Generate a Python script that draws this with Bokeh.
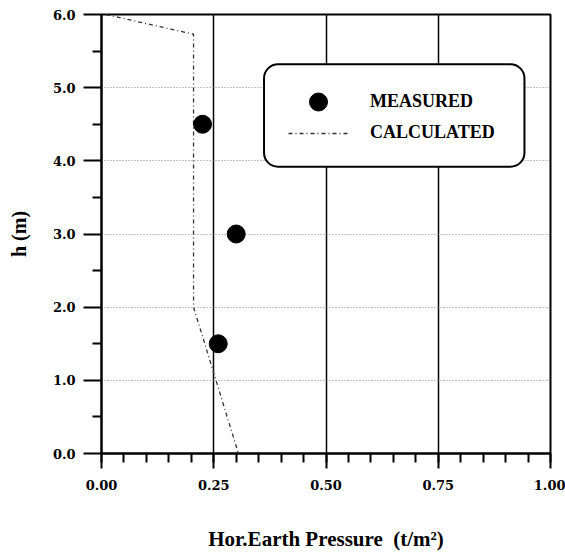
from bokeh.plotting import figure
from bokeh.models import (Range1d, FixedTicker, BoxAnnotation, Legend, LegendItem)
from bokeh.embed import file_html
from bokeh.resources import INLINE

# ---- data ----
measured_p = [0.225, 0.30, 0.26]
measured_h = [4.5, 3.0, 1.5]
calc_p = [0.01, 0.205, 0.205, 0.305]
calc_h = [6.0, 5.73, 2.0, 0.0]
x_ticks = [0.0, 0.25, 0.5, 0.75, 1.0]
x_tick_labels = ["0.00", "0.25", "0.50", "0.75", "1.00"]
y_ticks = [0, 1, 2, 3, 4, 5, 6]
y_tick_labels = ["0.0", "1.0", "2.0", "3.0", "4.0", "5.0", "6.0"]

p = figure(width=565, height=554, output_backend="svg", toolbar_location=None,
           x_range=Range1d(0, 1), y_range=Range1d(0, 6),
           min_border_left=101, min_border_right=15,
           min_border_top=14, min_border_bottom=101)
p.background_fill_color = "white"
p.border_fill_color = "white"
p.outline_line_color = "black"
p.outline_line_width = 2

# ticks
p.xaxis.ticker = FixedTicker(ticks=x_ticks,
                             minor_ticks=[round(0.05 * i, 2) for i in range(21)])
p.yaxis.ticker = FixedTicker(ticks=y_ticks,
                             minor_ticks=[0.5 + i for i in range(6)])
p.xaxis.major_label_overrides = {t: l for t, l in zip(x_ticks, x_tick_labels)}
p.yaxis.major_label_overrides = {t: l for t, l in zip(y_ticks, y_tick_labels)}

for ax in (p.xaxis, p.yaxis):
    ax.axis_line_color = "black"
    ax.axis_line_width = 2
    ax.major_tick_line_color = "black"
    ax.major_tick_line_width = 2
    ax.minor_tick_line_color = "black"
    ax.minor_tick_line_width = 2
    ax.major_tick_in = 0
    ax.minor_tick_in = 0
    ax.minor_tick_out = 9
    ax.major_label_text_font = "DejaVu Serif"
    ax.major_label_text_font_style = "bold"
    ax.major_label_text_font_size = "13px"
    ax.major_label_text_color = "black"
    ax.axis_label_text_font = "Liberation Serif"
    ax.axis_label_text_font_style = "bold"
    ax.axis_label_text_color = "black"

p.xaxis.major_tick_out = 15
p.yaxis.major_tick_out = 18
p.xaxis.major_label_standoff = 11
p.yaxis.major_label_standoff = 8

p.xaxis.axis_label = "Hor.Earth Pressure\u00a0\u00a0(t/m\u00b2)"
p.xaxis.axis_label_text_font_size = "21px"
p.xaxis.axis_label_standoff = 34
p.yaxis.axis_label = "h (m)"
p.yaxis.axis_label_text_font_size = "20px"
p.yaxis.axis_label_standoff = 20

# grids
p.xgrid.ticker = FixedTicker(ticks=x_ticks)
p.ygrid.ticker = FixedTicker(ticks=y_ticks)
p.xgrid.grid_line_color = "black"
p.xgrid.grid_line_width = 1.5
p.ygrid.grid_line_color = "#8a8a8a"
p.ygrid.grid_line_width = 1
p.ygrid.grid_line_dash = "1 2"

# data
r_line = p.line(calc_p, calc_h, line_color="#333333", line_width=1.3,
                line_dash="4 3 1 3")
r_pts = p.scatter(measured_p, measured_h, size=18, marker="circle",
                  fill_color="black", line_color="black")

# legend box
box = BoxAnnotation(left=0.362, right=0.942, bottom=3.92, top=5.32,
                    fill_color="white", fill_alpha=1.0,
                    line_color="black", line_alpha=1.0, line_width=2,
                    border_radius=14)
p.add_layout(box)

common = dict(orientation="vertical", glyph_width=60, label_standoff=22,
              padding=0, margin=0, border_line_color=None,
              background_fill_alpha=0, label_text_font="Liberation Serif",
              label_text_font_style="bold", label_text_font_size="18px",
              label_text_color="black")
legend1 = Legend(items=[LegendItem(label="MEASURED", renderers=[r_pts])],
                 location=(187, 329), glyph_height=45, **common)
legend2 = Legend(items=[LegendItem(label="CALCULATED", renderers=[r_line])],
                 location=(187, 310), glyph_height=20, label_height=20, **common)
p.add_layout(legend1)
p.add_layout(legend2)

open("out.html", "w").write(file_html(p, INLINE))
